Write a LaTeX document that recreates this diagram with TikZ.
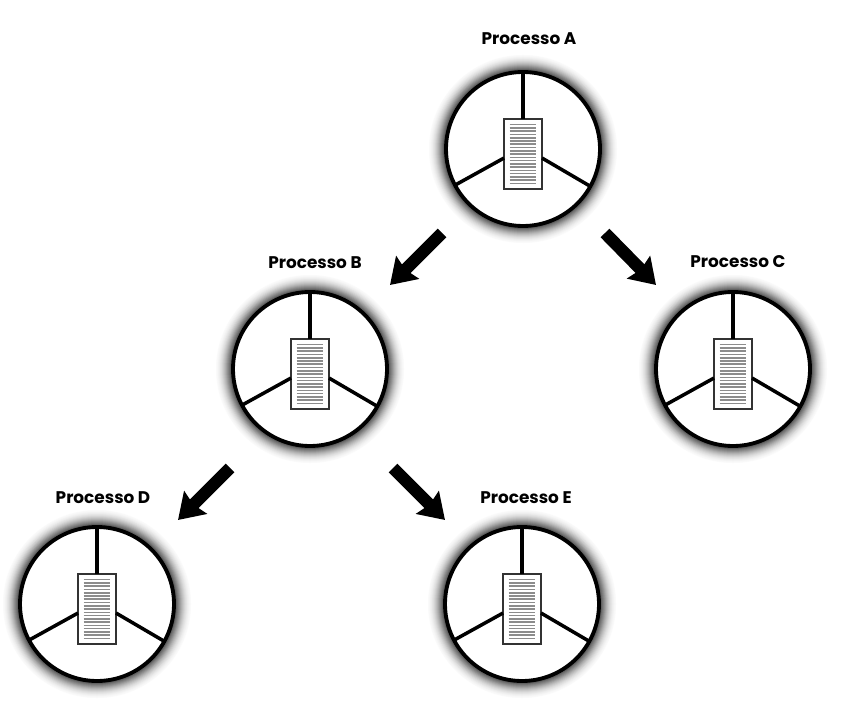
\documentclass[tikz,border=0pt]{standalone}
\usepackage{fontspec}
\setmainfont{Poppins}
\usetikzlibrary{arrows.meta}
\tikzset{
  proc/.style={circle, draw, fill=white, line width=3.3pt, minimum size=4.62cm, inner sep=0pt, outer sep=0pt},
  doc/.style={rectangle, draw=black!80, fill=white, line width=1.4pt, minimum width=1.14cm, minimum height=2.1cm, inner sep=0pt, outer sep=0pt,
    path picture={\foreach \k in {0,...,18} \draw[black!45, line width=1.4pt] ([xshift=0.17cm, yshift=-0.17cm-\k*0.098cm]path picture bounding box.north west) -- ++(0.80cm,0);}},
  spoke/.style={line width=3pt},
  flow/.style={line width=10.5pt, -{Stealth[length=21pt, width=27pt, inset=2.5pt]}},
  proclabel/.style={font=\bfseries\fontsize{14.4}{16}\selectfont, inner sep=0pt}
}
\begin{document}
\begin{tikzpicture}[x=0.03cm, y=-0.03cm]
  \useasboundingbox[fill=white] (0,0) rectangle (843,709);
  % processes
  \foreach \n/\x/\y/\lx/\ly/\t in {a/523/149/529/39/A, b/310/369/315/263/B, c/733/369/738/262/C, d/97/604/103/498/D, e/522/604/526/498/E}{
    \foreach \r/\c in {94/2, 93/3, 92/5, 91/7, 90/10, 89/13, 88/17, 87/21, 86/26, 85/31, 84/37, 83/43, 82/49, 81/55, 80/62}
      \fill[black!\c] (\x,\y) circle (\r);
    \node (\n)[proc] at (\x,\y){};
    \node (\n box)[doc] at (\x,\y+5){};
    \node (\n label)[proclabel] at (\lx,\ly){Processo \t};
    \draw [spoke](\n.90)--(\n box.north);
    \draw [spoke](\n.208.6)--(\n box.192);
    \draw [spoke](\n.331.4)--(\n box.348);
  }
  % arrows
  \coordinate (ab1) at (442,233);
  \coordinate (ab2) at (390,285);
  \coordinate (ac1) at (605,233);
  \coordinate (ac2) at (656,285);
  \coordinate (bd1) at (230,468);
  \coordinate (bd2) at (178,520);
  \coordinate (be1) at (393,468);
  \coordinate (be2) at (445,520);
  \draw [flow](ab1)--(ab2);
  \draw [flow](ac1)--(ac2);
  \draw [flow](bd1)--(bd2);
  \draw [flow](be1)--(be2);
\end{tikzpicture}
\end{document}
